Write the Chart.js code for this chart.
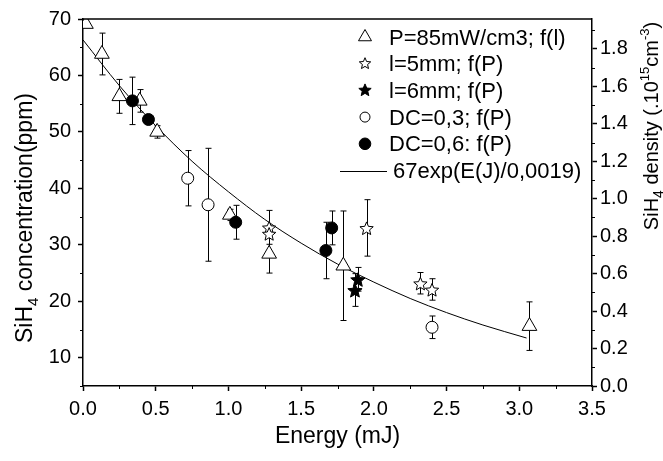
<!DOCTYPE html>
<html>
<head>
<meta charset="utf-8">
<script src="https://cdn.jsdelivr.net/npm/chart.js@4.4.1/dist/chart.umd.min.js"></script>
<style>
  html, body { margin: 0; padding: 0; background: #fff; }
  #wrap { width: 663px; height: 461px; position: relative; }
</style>
</head>
<body>
<div id="wrap"><canvas id="myChart"></canvas></div>
<script>
const FONT = 'Arial, "Liberation Sans", sans-serif';

// P=85mW/cm3; f(l) - open triangles
const triX = [0.02, 0.13, 0.25, 0.39, 0.51, 1.01, 1.28, 1.79, 3.07];
const triY = [69.1, 63.8, 56.3, 55.5, 50.0, 35.3, 28.4, 26.3, 15.6];
const triErr = [0, 3.7, 3.0, 2.0, 1.1, 1.0, 3.4, 9.7, 4.3];

// l=5mm; f(P) - open stars
const star5X = [1.28, 1.28, 1.95, 2.32, 2.40];
const star5Y = [33.1, 32.0, 33.0, 23.2, 22.1];
const star5Err = [3.0, 0, 5.0, 1.9, 1.9];

// l=6mm; f(P) - filled stars
const star6X = [1.89, 1.87];
const star6Y = [23.9, 22.0];
const star6Err = [2.1, 2.9];

// DC=0,3; f(P) - open circles
const dc3X = [0.72, 0.86, 2.40];
const dc3Y = [41.8, 37.1, 15.4];
const dc3Err = [4.9, 10.0, 2.0];

// DC=0,6: f(P) - filled circles
const dc6X = [0.34, 0.45, 1.05, 1.67, 1.71];
const dc6Y = [55.5, 52.2, 34.0, 29.0, 33.0];
const dc6Err = [4.2, 0.8, 3.0, 5.0, 3.0];

// fit curve
const fitX = [0, 0.25, 0.5, 0.75, 1.0, 1.25, 1.5, 1.75, 2.0, 2.25, 2.5, 2.75, 3.05];
const fitY = [66.3, 58.2, 51.1, 44.8, 39.4, 34.5, 30.3, 26.6, 23.4, 20.5, 18.0, 15.8, 13.5];

// ticks
const xTicks = [0, 0.5, 1.0, 1.5, 2.0, 2.5, 3.0, 3.5];
const xMinor = [0.25, 0.75, 1.25, 1.75, 2.25, 2.75, 3.25];
const yTicks = [10, 20, 30, 40, 50, 60, 70];
const yMinor = [5, 15, 25, 35, 45, 55, 65];
const y2Ticks = [0, 0.2, 0.4, 0.6, 0.8, 1.0, 1.2, 1.4, 1.6, 1.8];
const y2Minor = [0.1, 0.3, 0.5, 0.7, 0.9, 1.1, 1.3, 1.5, 1.7, 1.9];

const labels = ["P=85mW/cm3; f(l)", "l=5mm; f(P)", "l=6mm; f(P)", "DC=0,3; f(P)", "DC=0,6: f(P)", "67exp(E(J)/0,0019)"];

const pts = (xs, ys) => xs.map((v, i) => ({ x: v, y: ys[i] }));

// 5 point star path
function drawStar(ctx, cx, cy, R, filled) {
  ctx.beginPath();
  for (let k = 0; k < 10; k++) {
    const r = k % 2 ? R * 0.45 : R;
    const a = -Math.PI / 2 + (k * Math.PI) / 5;
    ctx.lineTo(cx + r * Math.cos(a), cy + 1 + r * Math.sin(a));
  }
  ctx.closePath();
  ctx.fillStyle = filled ? "#000" : "#fff";
  ctx.fill();
  ctx.lineWidth = 1;
  ctx.strokeStyle = "#000";
  ctx.stroke();
}

// error bars under the markers
const errorBars = {
  id: "errorBars",
  beforeDatasetsDraw(chart) {
    const { ctx, chartArea: a, scales: { x, y } } = chart;
    ctx.save();
    ctx.beginPath();
    ctx.rect(a.left, a.top, a.right - a.left, a.bottom - a.top);
    ctx.clip();
    ctx.strokeStyle = "#000";
    ctx.lineWidth = 1;
    chart.data.datasets.forEach((ds) => {
      if (!ds.errs) return;
      ds.data.forEach((p, i) => {
        const e = ds.errs[i];
        if (!e) return;
        const px = Math.round(x.getPixelForValue(p.x)) + 0.5;
        const top = y.getPixelForValue(p.y + e);
        const bot = y.getPixelForValue(p.y - e);
        ctx.beginPath();
        ctx.moveTo(px, top); ctx.lineTo(px, bot);
        ctx.moveTo(px - 3, top); ctx.lineTo(px + 3, top);
        ctx.moveTo(px - 3, bot); ctx.lineTo(px + 3, bot);
        ctx.stroke();
      });
    });
    ctx.restore();
  },
};

// stars drawn on the points that the scatter controller placed
const starMarks = {
  id: "starMarks",
  afterDatasetDraw(chart, args) {
    const ds = chart.data.datasets[args.index];
    if (!ds.star) return;
    const { ctx } = chart;
    ctx.save();
    args.meta.data.forEach((el) => {
      drawStar(ctx, el.x, el.y, ds.star === "full" ? 7.5 : 7, ds.star === "full");
    });
    ctx.restore();
  },
};

function richText(ctx, parts, cx, cy, angle) {
  ctx.save();
  ctx.translate(cx, cy);
  ctx.rotate(angle);
  ctx.textAlign = "left";
  ctx.textBaseline = "alphabetic";
  ctx.fillStyle = "#000";
  let w = 0;
  parts.forEach((p) => {
    ctx.font = p.size + "px " + FONT;
    p.w = ctx.measureText(p.t).width;
    w += p.w;
  });
  let xx = -w / 2;
  parts.forEach((p) => {
    ctx.font = p.size + "px " + FONT;
    ctx.fillText(p.t, xx, p.dy || 0);
    xx += p.w;
  });
  ctx.restore();
}

// frame, minor ticks, titles and legend
const decor = {
  id: "decor",
  afterDraw(chart) {
    const { ctx, chartArea: a, scales: { x, y, y2 } } = chart;
    ctx.save();
    ctx.strokeStyle = "#000";
    ctx.lineWidth = 1.5;
    ctx.beginPath();
    ctx.moveTo(a.left, a.top);
    ctx.lineTo(a.right, a.top);
    ctx.stroke();

    ctx.lineWidth = 1;
    ctx.beginPath();
    xMinor.forEach((v) => {
      const px = Math.round(x.getPixelForValue(v)) + 0.5;
      ctx.moveTo(px, a.bottom); ctx.lineTo(px, a.bottom + 3);
    });
    yMinor.forEach((v) => {
      const py = Math.round(y.getPixelForValue(v)) + 0.5;
      ctx.moveTo(a.left, py); ctx.lineTo(a.left - 3, py);
    });
    y2Minor.forEach((v) => {
      const py = Math.round(y2.getPixelForValue(v)) + 0.5;
      ctx.moveTo(a.right, py); ctx.lineTo(a.right + 3, py);
    });
    ctx.stroke();

    // axis titles
    richText(ctx, [{ t: "Energy (mJ)", size: 23 }], (a.left + a.right) / 2, 443, 0);
    richText(ctx, [
      { t: "SiH", size: 23 }, { t: "4", size: 15, dy: 6 },
      { t: " concentration(ppm)", size: 23 },
    ], 32, 218, -Math.PI / 2);
    richText(ctx, [
      { t: "SiH", size: 20 }, { t: "4", size: 14, dy: 5 },
      { t: " density (.10", size: 20 }, { t: "15", size: 13, dy: -9 },
      { t: "cm", size: 20 }, { t: "-3", size: 13, dy: -9 }, { t: ")", size: 20 },
    ], 658, 126, -Math.PI / 2);

    // legend
    const sx = 365, tx = 389;
    ctx.font = "22px " + FONT;
    ctx.textAlign = "left";
    ctx.textBaseline = "alphabetic";
    labels.forEach((lab, i) => {
      const ry = 37 + i * 26.7;
      ctx.fillStyle = "#000";
      ctx.strokeStyle = "#000";
      ctx.lineWidth = 1;
      if (i === 0) {
        const r = 7.5;
        ctx.beginPath();
        ctx.moveTo(sx, ry - r);
        ctx.lineTo(sx + r * 0.866, ry + r / 2);
        ctx.lineTo(sx - r * 0.866, ry + r / 2);
        ctx.closePath();
        ctx.fillStyle = "#fff"; ctx.fill(); ctx.stroke();
      } else if (i === 1 || i === 2) {
        drawStar(ctx, sx, ry - 1, i === 1 ? 6 : 6.5, i === 2);
      } else if (i === 3 || i === 4) {
        ctx.beginPath();
        ctx.arc(sx, ry, i === 3 ? 5 : 5.8, 0, Math.PI * 2);
        ctx.fillStyle = i === 3 ? "#fff" : "#000";
        ctx.fill(); ctx.stroke();
      } else {
        ctx.beginPath();
        ctx.moveTo(340, Math.round(ry) + 0.5);
        ctx.lineTo(387, Math.round(ry) + 0.5);
        ctx.stroke();
      }
      ctx.fillStyle = "#000";
      ctx.fillText(lab, i === 5 ? 393 : tx, ry + 7.5);
    });
    ctx.restore();
  },
};

const ctx = document.getElementById("myChart").getContext("2d");

new Chart(ctx, {
  type: "scatter",
  data: {
    datasets: [
      {
        label: labels[0], data: pts(triX, triY), errs: triErr, order: 4,
        pointStyle: "triangle", pointRadius: 8.5, pointBackgroundColor: "#fff",
        pointBorderColor: "#000", pointBorderWidth: 1, clip: 0,
      },
      {
        label: labels[1], data: pts(star5X, star5Y), errs: star5Err, order: 3,
        star: "open", pointRadius: 0, clip: 0,
      },
      {
        label: labels[2], data: pts(star6X, star6Y), errs: star6Err, order: 2,
        star: "full", pointRadius: 0, clip: 0,
      },
      {
        label: labels[3], data: pts(dc3X, dc3Y), errs: dc3Err, order: 1,
        pointStyle: "circle", pointRadius: 6, pointBackgroundColor: "#fff",
        pointBorderColor: "#000", pointBorderWidth: 1, clip: 0,
      },
      {
        label: labels[4], data: pts(dc6X, dc6Y), errs: dc6Err, order: 0,
        pointStyle: "circle", pointRadius: 6, pointBackgroundColor: "#000",
        pointBorderColor: "#000", pointBorderWidth: 1, clip: 0,
      },
      {
        label: labels[5], type: "line", data: pts(fitX, fitY), order: 5,
        showLine: true, pointRadius: 0, borderColor: "#000", borderWidth: 1,
        cubicInterpolationMode: "monotone", fill: false, clip: 0,
      },
    ],
  },
  options: {
    responsive: true,
    maintainAspectRatio: false,
    animation: false,
    devicePixelRatio: 1,
    layout: { padding: { top: 18, left: 0, right: 0, bottom: 0 } },
    plugins: {
      legend: { display: false },
      tooltip: { enabled: false },
    },
    scales: {
      x: {
        type: "linear", min: 0, max: 3.5,
        afterBuildTicks: (axis) => { axis.ticks = xTicks.map((v) => ({ value: v })); },
        afterFit: (axis) => { axis.height = 75; },
        grid: { drawOnChartArea: false, tickLength: 5, color: "#000", tickWidth: 1.5 },
        border: { color: "#000", width: 1.5 },
        ticks: {
          color: "#000", padding: 6, maxRotation: 0,
          font: { family: FONT, size: 20 },
          callback: (v) => v.toFixed(1),
        },
      },
      y: {
        type: "linear", position: "left", min: 5, max: 70,
        afterBuildTicks: (axis) => { axis.ticks = yTicks.map((v) => ({ value: v })); },
        afterFit: (axis) => { axis.width = 83; },
        grid: { drawOnChartArea: false, tickLength: 5, color: "#000", tickWidth: 1.5 },
        border: { color: "#000", width: 1.5 },
        ticks: {
          color: "#000", padding: 7,
          font: { family: FONT, size: 20 },
          callback: (v) => String(v),
        },
      },
      y2: {
        type: "linear", position: "right", min: 0, max: 1.96,
        afterBuildTicks: (axis) => { axis.ticks = y2Ticks.map((v) => ({ value: v })); },
        afterFit: (axis) => { axis.width = 71; },
        grid: { drawOnChartArea: false, tickLength: 5, color: "#000", tickWidth: 1.5 },
        border: { color: "#000", width: 1.5 },
        ticks: {
          color: "#000", padding: 3,
          font: { family: FONT, size: 20 },
          callback: (v) => v.toFixed(1),
        },
      },
    },
  },
  plugins: [errorBars, starMarks, decor],
});
</script>
</body>
</html>
